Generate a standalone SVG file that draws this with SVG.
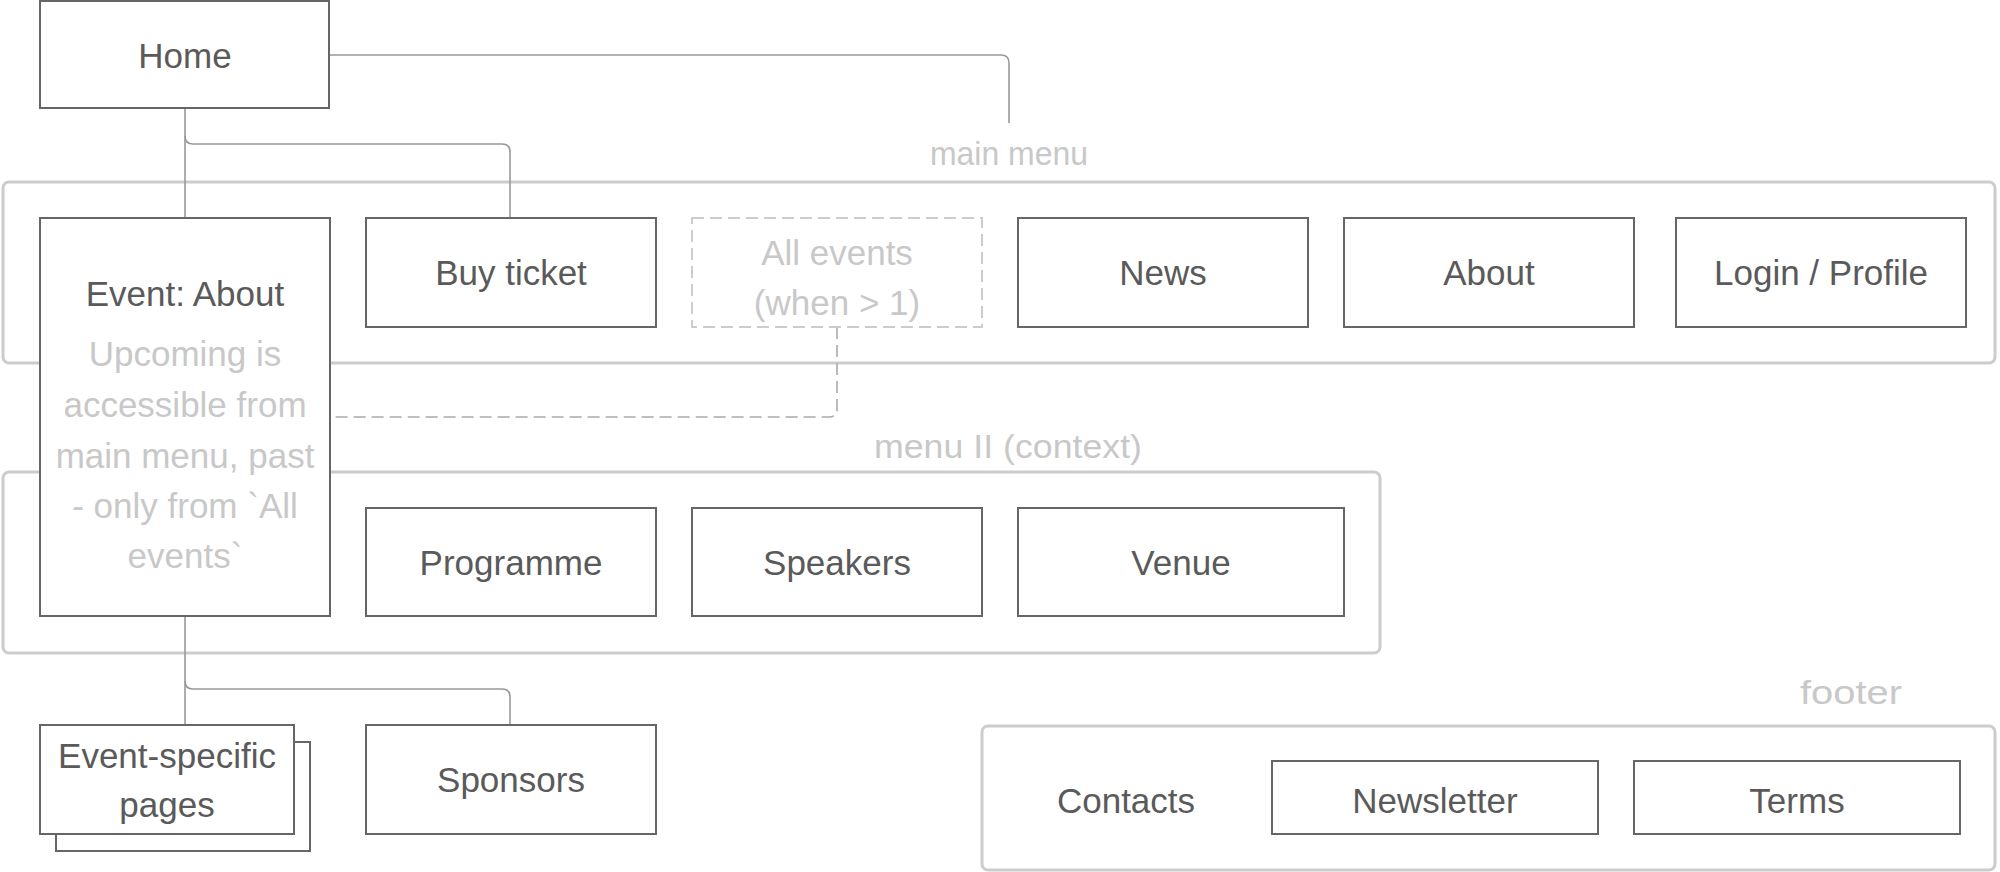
<svg xmlns="http://www.w3.org/2000/svg" width="2000" height="872" viewBox="0 0 2000 872">
<style>
text{font-family:"Liberation Sans",Arial,sans-serif;text-anchor:middle}
.t{font-size:35px;fill:#5a5a5a}
.g{font-size:35px;fill:#c8c8c8}
.lbl{font-size:33px;fill:#c8c8c8}
.box{fill:#fff;stroke:#666;stroke-width:2}
.dbox{fill:#fff;stroke:#ccc;stroke-width:2;stroke-dasharray:12 6}
.cont{fill:none;stroke:#ccc;stroke-width:3}
.con{fill:none;stroke:#999;stroke-width:1.6}
.dcon{fill:none;stroke:#aaa;stroke-width:1.6;stroke-dasharray:12 6}
</style>
<rect width="2000" height="872" fill="#fff"/>
<g id="containers">
<g id="main-menu"><rect class="cont" x="3" y="182" width="1992" height="181" rx="6"/><text class="lbl" x="1009" y="165" textLength="158" lengthAdjust="spacingAndGlyphs">main menu</text></g>
<g id="menu-ii"><rect class="cont" x="3" y="472" width="1377" height="181" rx="6"/><text class="lbl" x="1008" y="458" textLength="268" lengthAdjust="spacingAndGlyphs">menu II (context)</text></g>
<g id="footer"><rect class="cont" x="982" y="726" width="1013" height="144" rx="6"/><text class="lbl" x="1851" y="704" textLength="102" lengthAdjust="spacingAndGlyphs">footer</text></g>
</g>
<g id="connectors">
<path class="con" d="M329,55 H1001 Q1009,55 1009,63 V123"/>
<path class="con" d="M185,108 V218"/>
<path class="con" d="M185,136 Q185,144 193,144 H502 Q510,144 510,152 V218"/>
<path class="dcon" d="M837,327 V409 Q837,417 829,417 H330"/>
<path class="con" d="M185,616 V725"/>
<path class="con" d="M185,681 Q185,689 193,689 H502 Q510,689 510,697 V725"/>
</g>
<g id="home"><rect class="box" x="40" y="1" width="289" height="107"/><text class="t" x="185" y="68">Home</text></g>
<g id="event-about"><rect class="box" x="40" y="218" width="290" height="398"/>
<text class="t" x="185" y="306">Event: About</text>
<text class="g" x="185" y="366">Upcoming is</text>
<text class="g" x="185" y="417">accessible from</text>
<text class="g" x="185" y="468">main menu, past</text>
<text class="g" x="185" y="518">- only from `All</text>
<text class="g" x="185" y="568">events`</text></g>
<g id="buy-ticket"><rect class="box" x="366" y="218" width="290" height="109"/><text class="t" x="511" y="285">Buy ticket</text></g>
<g id="all-events"><rect class="dbox" x="692" y="218" width="290" height="109"/><text class="g" x="837" y="265">All events</text><text class="g" x="837" y="315">(when &gt; 1)</text></g>
<g id="news"><rect class="box" x="1018" y="218" width="290" height="109"/><text class="t" x="1163" y="285">News</text></g>
<g id="about"><rect class="box" x="1344" y="218" width="290" height="109"/><text class="t" x="1489" y="285">About</text></g>
<g id="login"><rect class="box" x="1676" y="218" width="290" height="109"/><text class="t" x="1821" y="285">Login / Profile</text></g>
<g id="programme"><rect class="box" x="366" y="508" width="290" height="108"/><text class="t" x="511" y="575">Programme</text></g>
<g id="speakers"><rect class="box" x="692" y="508" width="290" height="108"/><text class="t" x="837" y="575">Speakers</text></g>
<g id="venue"><rect class="box" x="1018" y="508" width="326" height="108"/><text class="t" x="1181" y="575">Venue</text></g>
<g id="event-specific"><rect class="box" x="56" y="742" width="254" height="109"/><rect class="box" x="40" y="725" width="254" height="109"/><text class="t" x="167" y="768">Event-specific</text><text class="t" x="167" y="817">pages</text></g>
<g id="sponsors"><rect class="box" x="366" y="725" width="290" height="109"/><text class="t" x="511" y="792">Sponsors</text></g>
<g id="contacts"><text class="t" x="1126" y="813">Contacts</text></g>
<g id="newsletter"><rect class="box" x="1272" y="761" width="326" height="73"/><text class="t" x="1435" y="813">Newsletter</text></g>
<g id="terms"><rect class="box" x="1634" y="761" width="326" height="73"/><text class="t" x="1797" y="813">Terms</text></g>
</svg>
